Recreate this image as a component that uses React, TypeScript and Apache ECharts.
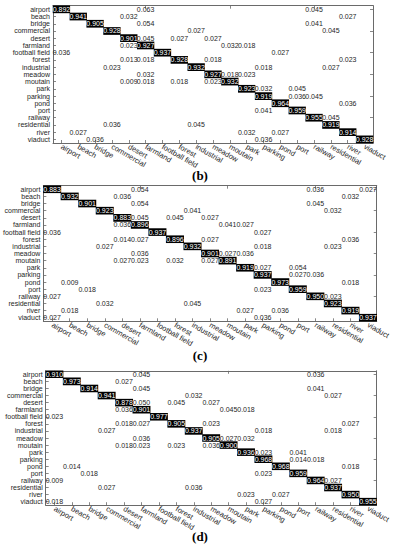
import React, { useEffect, useRef } from "react";
import * as echarts from "echarts";

const categories = [
  "airport", "beach", "bridge", "commercial", "desert", "farmland", "football field",
  "forest", "industrial", "meadow", "moutain", "park", "parking", "pond", "port",
  "railway", "residential", "river", "viaduct",
];

// [true class (row), predicted class (column), rate]
const matrixB: [string, string, number][] = [
  ["airport", "airport", 0.892], ["airport", "farmland", 0.063], ["airport", "railway", 0.045],
  ["beach", "beach", 0.941], ["beach", "desert", 0.032], ["beach", "river", 0.027],
  ["bridge", "bridge", 0.905], ["bridge", "farmland", 0.054], ["bridge", "railway", 0.041],
  ["commercial", "commercial", 0.928], ["commercial", "industrial", 0.027], ["commercial", "residential", 0.045],
  ["desert", "desert", 0.901], ["desert", "farmland", 0.045], ["desert", "forest", 0.027], ["desert", "meadow", 0.027],
  ["farmland", "desert", 0.023], ["farmland", "farmland", 0.927], ["farmland", "moutain", 0.032], ["farmland", "park", 0.018],
  ["football field", "airport", 0.036], ["football field", "football field", 0.937], ["football field", "pond", 0.027],
  ["forest", "desert", 0.013], ["forest", "farmland", 0.018], ["forest", "forest", 0.928], ["forest", "meadow", 0.018], ["forest", "river", 0.023],
  ["industrial", "commercial", 0.023], ["industrial", "industrial", 0.932], ["industrial", "parking", 0.018], ["industrial", "residential", 0.027],
  ["meadow", "farmland", 0.032], ["meadow", "meadow", 0.927], ["meadow", "moutain", 0.018], ["meadow", "park", 0.023],
  ["moutain", "desert", 0.009], ["moutain", "farmland", 0.018], ["moutain", "forest", 0.018], ["moutain", "meadow", 0.023], ["moutain", "moutain", 0.932],
  ["park", "park", 0.923], ["park", "parking", 0.032], ["park", "port", 0.045],
  ["parking", "parking", 0.919], ["parking", "port", 0.036], ["parking", "railway", 0.045],
  ["pond", "pond", 0.964], ["pond", "river", 0.036],
  ["port", "parking", 0.041], ["port", "port", 0.959],
  ["railway", "railway", 0.955], ["railway", "residential", 0.045],
  ["residential", "commercial", 0.036], ["residential", "industrial", 0.045], ["residential", "residential", 0.919],
  ["river", "beach", 0.027], ["river", "park", 0.032], ["river", "pond", 0.027], ["river", "river", 0.914],
  ["viaduct", "bridge", 0.036], ["viaduct", "parking", 0.036], ["viaduct", "viaduct", 0.928],
];

const matrixC: [string, string, number][] = [
  ["airport", "airport", 0.883], ["airport", "farmland", 0.054], ["airport", "railway", 0.036], ["airport", "viaduct", 0.027],
  ["beach", "beach", 0.932], ["beach", "desert", 0.036], ["beach", "river", 0.032],
  ["bridge", "bridge", 0.901], ["bridge", "farmland", 0.054], ["bridge", "railway", 0.045],
  ["commercial", "commercial", 0.923], ["commercial", "industrial", 0.041], ["commercial", "residential", 0.032],
  ["desert", "desert", 0.883], ["desert", "farmland", 0.045], ["desert", "forest", 0.045], ["desert", "meadow", 0.027],
  ["farmland", "desert", 0.036], ["farmland", "farmland", 0.896], ["farmland", "moutain", 0.041], ["farmland", "park", 0.027],
  ["football field", "airport", 0.036], ["football field", "football field", 0.937], ["football field", "parking", 0.027],
  ["forest", "desert", 0.014], ["forest", "farmland", 0.027], ["forest", "forest", 0.896], ["forest", "meadow", 0.027], ["forest", "river", 0.036],
  ["industrial", "commercial", 0.027], ["industrial", "industrial", 0.932], ["industrial", "parking", 0.018], ["industrial", "residential", 0.023],
  ["meadow", "farmland", 0.036], ["meadow", "meadow", 0.901], ["meadow", "moutain", 0.027], ["meadow", "park", 0.036],
  ["moutain", "desert", 0.027], ["moutain", "farmland", 0.023], ["moutain", "forest", 0.032], ["moutain", "meadow", 0.027], ["moutain", "moutain", 0.891],
  ["park", "park", 0.919], ["park", "parking", 0.027], ["park", "port", 0.054],
  ["parking", "parking", 0.937], ["parking", "port", 0.027], ["parking", "railway", 0.036],
  ["pond", "beach", 0.009], ["pond", "pond", 0.973], ["pond", "river", 0.018],
  ["port", "bridge", 0.018], ["port", "parking", 0.023], ["port", "port", 0.959],
  ["railway", "airport", 0.027], ["railway", "railway", 0.95], ["railway", "residential", 0.023],
  ["residential", "commercial", 0.032], ["residential", "industrial", 0.045], ["residential", "residential", 0.923],
  ["river", "beach", 0.018], ["river", "park", 0.027], ["river", "pond", 0.036], ["river", "river", 0.919],
  ["viaduct", "airport", 0.027], ["viaduct", "parking", 0.036], ["viaduct", "viaduct", 0.937],
];

const matrixD: [string, string, number][] = [
  ["airport", "airport", 0.91], ["airport", "farmland", 0.045], ["airport", "railway", 0.036],
  ["beach", "beach", 0.973], ["beach", "desert", 0.027],
  ["bridge", "bridge", 0.914], ["bridge", "farmland", 0.045], ["bridge", "railway", 0.041],
  ["commercial", "commercial", 0.941], ["commercial", "industrial", 0.032], ["commercial", "residential", 0.027],
  ["desert", "desert", 0.878], ["desert", "farmland", 0.05], ["desert", "forest", 0.045], ["desert", "meadow", 0.027],
  ["farmland", "desert", 0.036], ["farmland", "farmland", 0.901], ["farmland", "moutain", 0.045], ["farmland", "park", 0.018],
  ["football field", "airport", 0.023], ["football field", "football field", 0.977],
  ["forest", "desert", 0.018], ["forest", "farmland", 0.027], ["forest", "forest", 0.905], ["forest", "meadow", 0.023], ["forest", "river", 0.027],
  ["industrial", "commercial", 0.027], ["industrial", "industrial", 0.937], ["industrial", "parking", 0.018], ["industrial", "residential", 0.018],
  ["meadow", "farmland", 0.036], ["meadow", "meadow", 0.905], ["meadow", "moutain", 0.027], ["meadow", "park", 0.032],
  ["moutain", "desert", 0.018], ["moutain", "farmland", 0.023], ["moutain", "forest", 0.023], ["moutain", "meadow", 0.036], ["moutain", "moutain", 0.9],
  ["park", "park", 0.936], ["park", "parking", 0.023], ["park", "port", 0.041],
  ["parking", "parking", 0.968], ["parking", "port", 0.014], ["parking", "railway", 0.018],
  ["pond", "beach", 0.014], ["pond", "pond", 0.968], ["pond", "river", 0.018],
  ["port", "bridge", 0.018], ["port", "parking", 0.023], ["port", "port", 0.959],
  ["railway", "airport", 0.009], ["railway", "railway", 0.964], ["railway", "residential", 0.027],
  ["residential", "commercial", 0.027], ["residential", "industrial", 0.036], ["residential", "residential", 0.937],
  ["river", "park", 0.023], ["river", "pond", 0.027], ["river", "river", 0.95],
  ["viaduct", "airport", 0.018], ["viaduct", "parking", 0.027], ["viaduct", "viaduct", 0.955],
];

const panelCaptions = ["(b)", "(c)", "(d)"];
const panels = [matrixB, matrixC, matrixD];

const FONT = "'Liberation Sans', Arial, Helvetica, sans-serif";
const AXIS_COLOR = "#6a6a6a";
const TEXT_COLOR = "#262626";

const grids = [
  { left: 53, top: 5.7, width: 320, height: 137.3 },
  { left: 43, top: 185.7, width: 339, height: 135.6 },
  { left: 45.7, top: 370.8, width: 335.3, height: 134.4 },
];
const captionPos = [
  { x: 200, y: 175 },
  { x: 200, y: 355 },
  { x: 200, y: 536 },
];

export default function App() {
  const ref = useRef<HTMLDivElement>(null);
  useEffect(() => {
    if (!ref.current) return;
    const chart = echarts.init(ref.current, undefined, { renderer: "svg" });

    const xAxes: any[] = [];
    const yAxes: any[] = [];
    const baseLine = { show: true, lineStyle: { color: AXIS_COLOR, width: 1 } };
    const tick = { show: true, inside: true, alignWithLabel: true, length: 3, lineStyle: { color: AXIS_COLOR, width: 0.8 } };
    grids.forEach((_, i) => {
      xAxes.push({
        type: "category", gridIndex: i, data: categories, position: "bottom",
        axisLine: baseLine, axisTick: tick, splitLine: { show: false },
        axisLabel: { rotate: -30, interval: 0, fontSize: 7.5, lineHeight: 7, color: TEXT_COLOR, fontFamily: FONT, margin: 3 },
      });
      yAxes.push({
        type: "category", gridIndex: i, data: categories, inverse: true, position: "left",
        axisLine: baseLine, axisTick: tick, splitLine: { show: false },
        axisLabel: { interval: 0, fontSize: 7, lineHeight: 7, color: TEXT_COLOR, fontFamily: FONT, margin: 3 },
      });
    });
    grids.forEach((_, i) => {
      xAxes.push({
        type: "category", gridIndex: i, data: categories, position: "top",
        axisLine: baseLine, axisTick: tick, axisLabel: { show: false }, splitLine: { show: false },
      });
      yAxes.push({
        type: "category", gridIndex: i, data: categories, inverse: true, position: "right",
        axisLine: baseLine, axisTick: tick, axisLabel: { show: false }, splitLine: { show: false },
      });
    });

    const series = panels.map((m, i) => ({
      type: "heatmap",
      xAxisIndex: i,
      yAxisIndex: i,
      silent: true,
      emphasis: { disabled: true },
      data: m.map(([row, col, v]) => {
        const diag = row === col ? 1 : 0;
        return {
          value: [categories.indexOf(col), categories.indexOf(row), v, diag],
          label: { color: diag ? "#ffffff" : TEXT_COLOR },
        };
      }),
      label: {
        show: true,
        fontSize: 7,
        lineHeight: 7,
        fontFamily: FONT,
        formatter: (p: any) => Number(p.value[2]).toFixed(3),
      },
    }));

    chart.setOption({
      animation: false,
      backgroundColor: "#ffffff",
      grid: grids.map((g) => ({ ...g, containLabel: false })),
      xAxis: xAxes,
      yAxis: yAxes,
      visualMap: {
        type: "piecewise",
        show: false,
        dimension: 3,
        seriesIndex: [0, 1, 2],
        pieces: [
          { value: 1, color: "#000000" },
          { value: 0, color: "rgba(255,255,255,0)" },
        ],
      },
      series,
      graphic: panelCaptions.map((t, i) => ({
        type: "text",
        x: captionPos[i].x,
        y: captionPos[i].y,
        style: {
          text: t,
          font: "bold 13px 'Liberation Serif', 'Times New Roman', serif",
          fill: "#000",
          textAlign: "center",
          textVerticalAlign: "middle",
        },
      })),
    });
    return () => chart.dispose();
  }, []);
  return (
    <div
      ref={ref}
      style={{ position: "absolute", left: 0, top: 0, width: 393, height: 550 }}
    />
  );
}
